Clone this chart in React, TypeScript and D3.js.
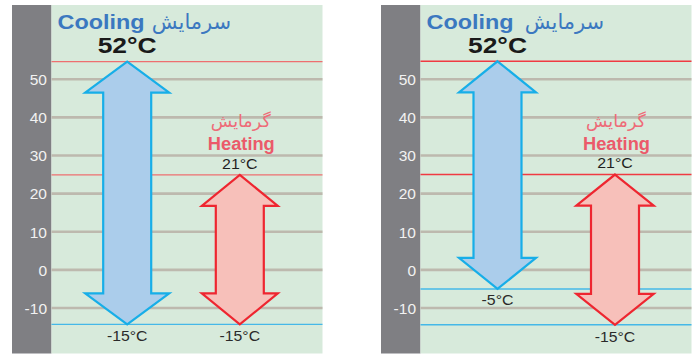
import React from 'react';
import * as d3 from 'd3';

// ---- data (plotted extents, with their printed labels) ----
const panels = ['left', 'right'];
const yTicks = [-10, 0, 10, 20, 30, 40, 50];
const coolingMax = [54.6, 54.7];
const coolingMin = [-14.3, -5.0];
const heatingMax = [24.9, 25.0];
const heatingMin = [-14.3, -14.4];
const coolingMaxLabel = ['52°C', '52°C'];
const coolingMinLabel = ['-15°C', '-5°C'];
const heatingMaxLabel = ['21°C', '21°C'];
const heatingMinLabel = ['-15°C', '-15°C'];
const modes = ['cooling', 'heating'];
const modeTitle = ['Cooling', 'Heating'];
const modeTitleFa = ['سرمایش', 'گرمایش'];

// ---- layout / style ----
const W = 696;
const H = 356;
const panelX = [12, 381];
const stripW = 39.5;
const plotW = 271;
const panelTop = 5;
const panelBottom = 353.5;
const arrowX = [
  [75.7, 188.3],
  [77, 194.5],
];
const headHalf = [
  [42, 38],
  [38.5, 38.7],
];
const shaftHalf = 24;
const headH = 31;

const LATIN = "'Liberation Sans', Arial, Helvetica, sans-serif";
const PERSIAN = "'DejaVu Sans', 'Noto Sans', sans-serif";

function arrowPath(cx: number, yTop: number, yBot: number, hw: number, sw: number, hh: number) {
  const p = d3.path();
  p.moveTo(cx, yTop);
  p.lineTo(cx + hw, yTop + hh);
  p.lineTo(cx + sw, yTop + hh);
  p.lineTo(cx + sw, yBot - hh);
  p.lineTo(cx + hw, yBot - hh);
  p.lineTo(cx, yBot);
  p.lineTo(cx - hw, yBot - hh);
  p.lineTo(cx - sw, yBot - hh);
  p.lineTo(cx - sw, yTop + hh);
  p.lineTo(cx - hw, yTop + hh);
  p.closePath();
  return p.toString();
}

export default function App() {
  const y = d3.scaleLinear().domain([-10, 50]).range([308, 79.2]);
  const small = (txt: string, xx: number, yy: number, len: number, fill: string) => (
    <text
      x={xx}
      y={yy}
      textAnchor="middle"
      fontFamily={LATIN}
      fontSize={14.5}
      fill={fill}
      textLength={len}
      lengthAdjust="spacingAndGlyphs"
    >
      {txt}
    </text>
  );
  return (
    <svg
      width={W}
      height={H}
      style={{ position: 'absolute', left: 0, top: 0, background: '#ffffff' }}
    >
      {panels.map((name, i) => {
        const x0 = panelX[i];
        const g0 = x0 + stripW;
        const x = d3
          .scaleOrdinal<string, number>()
          .domain(modes)
          .range(arrowX[i].map((v) => g0 + v));
        const redLines = [coolingMax[i], heatingMax[i]];
        const blueLines = Array.from(new Set([coolingMin[i], heatingMin[i]]));
        const cx = x('cooling');
        const hx = x('heating');
        return (
          <g key={name}>
            <rect x={x0} y={panelTop} width={stripW} height={panelBottom - panelTop} fill="#7f7f83" />
            <rect x={g0} y={panelTop} width={plotW} height={panelBottom - panelTop} fill="#d7eadb" />
            {yTicks.map((t) => (
              <g key={t}>
                <line x1={g0} x2={g0 + plotW} y1={y(t)} y2={y(t)} stroke="#bdb9ae" strokeWidth={2.6} />
                <text
                  x={g0 - 4.5}
                  y={y(t) + 5.8}
                  textAnchor="end"
                  fontFamily={LATIN}
                  fontSize={15.5}
                  fill="#f2f2f2"
                >
                  {t}
                </text>
              </g>
            ))}
            {redLines.map((v, k) => (
              <line
                key={'r' + k}
                x1={g0}
                x2={g0 + plotW}
                y1={y(v)}
                y2={y(v)}
                stroke={i === 0 ? '#ee6f70' : '#f03a42'}
                strokeWidth={1.4}
              />
            ))}
            {blueLines.map((v, k) => (
              <line
                key={'b' + k}
                x1={g0}
                x2={g0 + plotW}
                y1={y(v)}
                y2={y(v)}
                stroke="#45b8e8"
                strokeWidth={1.4}
              />
            ))}
            {/* arrows */}
            <path
              d={arrowPath(cx, y(coolingMax[i]), y(coolingMin[i]), headHalf[i][0], shaftHalf, headH)}
              fill="#abcdeb"
              stroke="#17aee8"
              strokeWidth={2.2}
              strokeLinejoin="miter"
            />
            <path
              d={arrowPath(hx, y(heatingMax[i]), y(heatingMin[i]), headHalf[i][1], shaftHalf, headH)}
              fill="#f7c0ba"
              stroke="#ee2630"
              strokeWidth={2.2}
              strokeLinejoin="miter"
            />
            {/* cooling titles */}
            <text
              x={g0 + 6}
              y={28.5}
              fontFamily={LATIN}
              fontWeight="bold"
              fontSize={21}
              fill="#3b78c0"
              textLength={87}
              lengthAdjust="spacingAndGlyphs"
            >
              {modeTitle[0]}
            </text>
            <text
              x={g0 + 140 + i * 4}
              y={29}
              textAnchor="middle"
              fontFamily={PERSIAN}
              fontSize={21}
              fill="#3b78c0"
              direction="rtl"
            >
              {modeTitleFa[0]}
            </text>
            <text
              x={cx}
              y={y(coolingMax[i]) - 8.2}
              textAnchor="middle"
              fontFamily={LATIN}
              fontWeight="bold"
              fontSize={21.5}
              fill="#1a1a1a"
              textLength={59}
              lengthAdjust="spacingAndGlyphs"
            >
              {coolingMaxLabel[i]}
            </text>
            {small(coolingMinLabel[i], cx, y(coolingMin[i]) + 16.5, coolingMinLabel[i].length > 4 ? 40.5 : 32, '#2a2a2a')}
            {/* heating titles */}
            <text
              x={hx + 1}
              y={127}
              textAnchor="middle"
              fontFamily={PERSIAN}
              fontSize={17.5}
              fill="#ee6b78"
              direction="rtl"
            >
              {modeTitleFa[1]}
            </text>
            <text
              x={hx + 1.5}
              y={149.5}
              textAnchor="middle"
              fontFamily={LATIN}
              fontWeight="bold"
              fontSize={17.5}
              fill="#eb5a6a"
              textLength={67}
              lengthAdjust="spacingAndGlyphs"
            >
              {modeTitle[1]}
            </text>
            {small(heatingMaxLabel[i], hx, y(heatingMax[i]) - 6.3, 35.5, '#1f1f1f')}
            {small(heatingMinLabel[i], hx, y(heatingMin[i]) + 17, 40.5, '#2a2a2a')}
          </g>
        );
      })}
    </svg>
  );
}
